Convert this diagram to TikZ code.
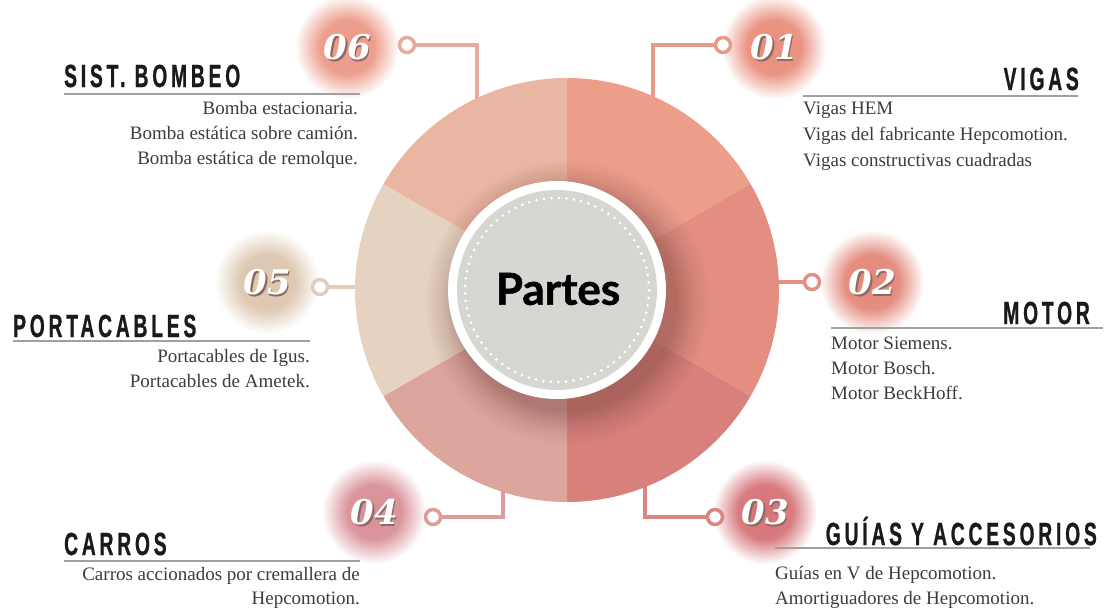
\documentclass[tikz,border=0pt]{standalone}
\usepackage{fontspec}
\setmainfont{Liberation Serif}
\newfontfamily\headfont{Liberation Sans}[FakeStretch=0.6,LetterSpace=12,FakeBold=0.8]
\newfontfamily\numfont{DejaVu Serif}
\newfontfamily\partfont{Lato}[FakeBold=1.2]
\usetikzlibrary{fadings,calc}

\definecolor{s1}{HTML}{EC9E8B}
\definecolor{s2}{HTML}{E38E81}
\definecolor{s3}{HTML}{D8807B}
\definecolor{s4}{HTML}{DDA69D}
\definecolor{s5}{HTML}{E5D2C0}
\definecolor{s6}{HTML}{E9B6A2}
\definecolor{l1}{HTML}{E89A88}
\definecolor{l2}{HTML}{E39183}
\definecolor{l3}{HTML}{D98682}
\definecolor{l4}{HTML}{DB9C9A}
\definecolor{l5}{HTML}{DFCDBD}
\definecolor{l6}{HTML}{E8AA9A}
\definecolor{g1}{HTML}{EA8F7C}
\definecolor{g2}{HTML}{E4887A}
\definecolor{g3}{HTML}{D67479}
\definecolor{g4}{HTML}{D99098}
\definecolor{g5}{HTML}{DCC6AE}
\definecolor{g6}{HTML}{EC9A88}
\definecolor{headc}{HTML}{1A1A1A}
\definecolor{bodyc}{HTML}{3C3C3C}
\definecolor{rulec}{HTML}{A0A0A0}
\definecolor{numsh}{HTML}{8A6A64}
\definecolor{centerc}{HTML}{D6D7D3}
\definecolor{shadowc}{HTML}{6E3C38}

\pgfdeclareradialshading{glowshade}{\pgfpoint{0bp}{0bp}}{color(0bp)=(transparent!0); color(13bp)=(transparent!5); color(25bp)=(transparent!100); color(50bp)=(transparent!100)}
\pgfdeclarefading{softglow}{\pgfuseshading{glowshade}}
\pgfdeclareradialshading{shadowshade}{\pgfpoint{0bp}{0bp}}{color(0bp)=(transparent!0); color(19bp)=(transparent!0); color(22bp)=(transparent!60); color(25bp)=(transparent!100); color(50bp)=(transparent!100)}
\pgfdeclarefading{softshadow}{\pgfuseshading{shadowshade}}

\tikzset{
  heading/.style={font=\headfont\bfseries\fontsize{32}{32}\selectfont, text=headc, inner sep=0pt},
  body/.style={font=\fontsize{19}{19}\selectfont, text=bodyc, inner sep=0pt},
  hrule/.style={draw=rulec, line width=2pt},
  marker/.style={circle, draw=#1, line width=3.5pt, fill=white, minimum size=15pt, inner sep=0pt},
  conn/.style={draw=#1, line width=3.5pt},
  numtext/.style={font=\numfont\bfseries\itshape\fontsize{34}{34}\selectfont, text=white, inner sep=0pt},
  numshadow/.style={font=\numfont\bfseries\itshape\fontsize{34}{34}\selectfont, text=numsh, inner sep=0pt},
}

\newcommand{\badge}[5]{%
  \fill[#4, path fading=softglow] (#2,#3) circle (52);
  \node[numshadow] (#1s) at ($(#2,#3)+(1.8,1.8)$) {#5};
  \node[numtext] (#1) at (#2,#3) {#5};
}

\begin{document}
\begin{tikzpicture}[x=1pt,y=-1pt]
\useasboundingbox (0,0) rectangle (1108,610);

% badges
\badge{b6}{347}{47}{g6}{06}
\badge{b1}{774}{47}{g1}{01}
\badge{b2}{872}{282}{g2}{02}
\badge{b5}{267}{282}{g5}{05}
\badge{b4}{374}{512}{g4}{04}
\badge{b3}{765}{512}{g3}{03}

% markers and ring anchor points
\node[marker=l6] (m6) at (407,45) {};
\node[marker=l1] (m1) at (723,45) {};
\node[marker=l2] (m2) at (812,282) {};
\node[marker=l5] (m5) at (320,287) {};
\node[marker=l4] (m4) at (433,517) {};
\node[marker=l3] (m3) at (715,517) {};
\coordinate (r6) at (477,110);
\coordinate (r1) at (653,110);
\coordinate (r2) at (770,282);
\coordinate (r5) at (365,287);
\coordinate (r4) at (503,480);
\coordinate (r3) at (645,480);

\draw[conn=l6] (r6) |- (m6);
\draw[conn=l1] (r1) |- (m1);
\draw[conn=l2] (r2) -- (m2);
\draw[conn=l5] (r5) -- (m5);
\draw[conn=l4] (r4) |- (m4);
\draw[conn=l3] (r3) |- (m3);

% ring
\begin{scope}[shift={(567,290)}, y=1pt]
  \fill[s1] (0,0) -- (30:212) arc[start angle=30, end angle=90, radius=212] -- cycle;
  \fill[s2] (0,0) -- (-30:212) arc[start angle=-30, end angle=30, radius=212] -- cycle;
  \fill[s3] (0,0) -- (-90:212) arc[start angle=-90, end angle=-30, radius=212] -- cycle;
  \fill[s4] (0,0) -- (210:212) arc[start angle=210, end angle=270, radius=212] -- cycle;
  \fill[s5] (0,0) -- (150:212) arc[start angle=150, end angle=210, radius=212] -- cycle;
  \fill[s6] (0,0) -- (90:212) arc[start angle=90, end angle=150, radius=212] -- cycle;
\end{scope}

% shadow of the centre disc
\fill[shadowc, opacity=0.42, path fading=softshadow] (567,302) circle (142);

% center
\node[circle, fill=white, minimum size=218pt, inner sep=0pt] (cw) at (557,290) {};
\node[circle, fill=centerc, minimum size=200pt, inner sep=0pt] (cg) at (cw.center) {};
\node[circle, draw=white, line width=3pt, dash pattern=on 0pt off 7.5pt, line cap=round, minimum size=184pt, inner sep=0pt] (cd) at (cw.center) {};
\node[font=\partfont\bfseries\fontsize{44}{44}\selectfont, text=black, inner sep=0pt] (title) at (558,289) {Partes};

% SIST. BOMBEO
\node[heading, anchor=base west] (h6) at (64,87) {SIST. BOMBEO};
\draw[hrule] (64,94) -- (360,94);
\node[body, anchor=base east] (t6a) at (358,114) {Bomba estacionaria.};
\node[body, anchor=base east] (t6b) at (358,139) {Bomba estática sobre camión.};
\node[body, anchor=base east] (t6c) at (358,164) {Bomba estática de remolque.};

% VIGAS
\node[heading, anchor=base east] (h1) at (1079,90) {VIGAS};
\draw[hrule] (803,96) -- (1078,96);
\node[body, anchor=base west] (t1a) at (803,114) {Vigas HEM};
\node[body, anchor=base west] (t1b) at (803,140) {Vigas del fabricante Hepcomotion.};
\node[body, anchor=base west] (t1c) at (803,166) {Vigas constructivas cuadradas};

% MOTOR
\node[heading, anchor=base east] (h2) at (1090,324) {MOTOR};
\draw[hrule] (831,328) -- (1103,328);
\node[body, anchor=base west] (t2a) at (831,349) {Motor Siemens.};
\node[body, anchor=base west] (t2b) at (831,374) {Motor Bosch.};
\node[body, anchor=base west] (t2c) at (831,399) {Motor BeckHoff.};

% PORTACABLES
\node[heading, anchor=base west] (h5) at (13,337) {PORTACABLES};
\draw[hrule] (13,341) -- (310,341);
\node[body, anchor=base east] (t5a) at (310,362) {Portacables de Igus.};
\node[body, anchor=base east] (t5b) at (310,387) {Portacables de Ametek.};

% CARROS
\node[heading, anchor=base west] (h4) at (64,555) {CARROS};
\draw[hrule] (64,561) -- (360,561);
\node[body, anchor=base east] (t4a) at (360,580) {Carros accionados por cremallera de};
\node[body, anchor=base east] (t4b) at (360,604) {Hepcomotion.};

% GUIAS
\node[heading, anchor=base east] (h3) at (1097,545) {GUÍAS Y ACCESORIOS};
\draw[hrule] (775,548) -- (1090,548);
\node[body, anchor=base west] (t3a) at (775,579) {Guías en V de Hepcomotion.};
\node[body, anchor=base west] (t3b) at (775,604) {Amortiguadores de Hepcomotion.};
\end{tikzpicture}
\end{document}
